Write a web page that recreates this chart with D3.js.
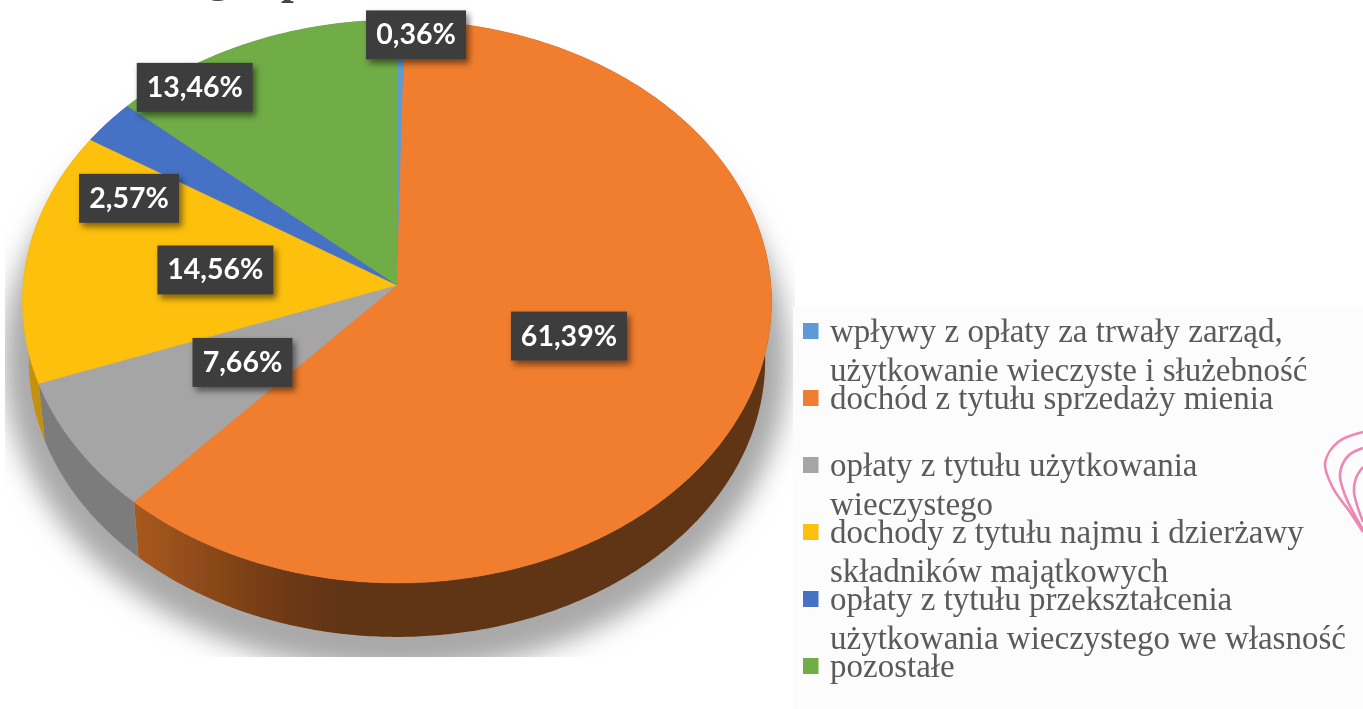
<!DOCTYPE html>
<html lang="pl">
<head>
<meta charset="utf-8">
<script src="https://cdnjs.cloudflare.com/ajax/libs/d3/7.8.5/d3.min.js"></script>
<style>
html,body{margin:0;padding:0;background:#fff;overflow:hidden}
svg{display:block}
</style>
</head>
<body>
<svg id="chart" width="1363" height="709"></svg>
<script>
// ---- data ----
const categories = [
  ["wpływy z opłaty za trwały zarząd,", "użytkowanie wieczyste i służebność"],
  ["dochód z tytułu sprzedaży mienia"],
  ["opłaty z tytułu użytkowania", "wieczystego"],
  ["dochody z tytułu najmu i dzierżawy", "składników majątkowych"],
  ["opłaty z tytułu przekształcenia", "użytkowania wieczystego we własność"],
  ["pozostałe"]
];
const values = [0.36, 61.39, 7.66, 14.56, 2.57, 13.46];
const valueLabels = ["0,36%", "61,39%", "7,66%", "14,56%", "2,57%", "13,46%"];
const topColors = ["#5b9bd5", "#f07e2e", "#a5a5a5", "#fdc010", "#4472c4", "#70ad47"];
const wallColors = ["#3f6f99", "url(#orangeWall)", "#7b7b7b", "#c4900c", "#2f5290", "#4f7d32"];
// hand-dragged data labels: offset from the default label anchor
const labelNudgeX = [17, 0, 0, 0, -124, -129];
const labelNudgeY = [-116, 0, 0, 0, -5, -75];

// ---- layout ----
const W = 1363, H = 709;
const svg = d3.select("#chart");
const apex = {x: 397, y: 285};
const radiusX = 373.9, radiusY = 280.5, perspective = 0.0586;
const depthScale = 0.983, lowerApexY = 344;

// perspective projection of a point on the pie disc (angle clockwise from 12 o'clock)
function project(angle, r, s = 1, ay = apex.y) {
  const ux = Math.sin(angle) * r, uy = Math.cos(angle) * r;
  const d = 1 + perspective * uy;
  return [apex.x + s * radiusX * ux / d, ay - s * radiusY * uy / d];
}
const pie = d3.pie().sort(null).value(d => d).startAngle(0).endAngle(2 * Math.PI);
const arcs = pie(values);
const line = d3.line();
const sampleAngles = (a, b) => {
  const n = Math.max(2, Math.ceil((b - a) / 0.01));
  return d3.range(n + 1).map(i => a + (b - a) * i / n);
};

const defs = svg.append("defs");
defs.append("filter").attr("id", "shadowBlur")
  .attr("x", "-10%").attr("y", "-10%").attr("width", "120%").attr("height", "120%")
  .append("feGaussianBlur").attr("stdDeviation", 13);
defs.append("filter").attr("id", "soft")
  .attr("x", "-5%").attr("y", "-5%").attr("width", "110%").attr("height", "110%")
  .append("feGaussianBlur").attr("stdDeviation", 0.7);
const ds = defs.append("filter").attr("id", "boxShadow")
  .attr("x", "-20%").attr("y", "-30%").attr("width", "150%").attr("height", "170%");
ds.append("feDropShadow").attr("dx", 3).attr("dy", 4).attr("stdDeviation", 3)
  .attr("flood-color", "#000").attr("flood-opacity", 0.5);
const grad = defs.append("linearGradient").attr("id", "orangeWall")
  .attr("gradientUnits", "userSpaceOnUse")
  .attr("x1", 135).attr("x2", 340).attr("y1", 0).attr("y2", 0);
grad.append("stop").attr("offset", 0).attr("stop-color", "#a9591f");
grad.append("stop").attr("offset", 0.7).attr("stop-color", "#703a14");
grad.append("stop").attr("offset", 1).attr("stop-color", "#603412");
defs.append("clipPath").attr("id", "shadowClip").append("rect")
  .attr("x", 5).attr("y", 0).attr("width", 790).attr("height", 657);

// page background
svg.append("rect").attr("width", W).attr("height", H).attr("fill", "#fff");

// clipped remnants of the page heading
const heading = svg.append("g").attr("font-family", "'Liberation Serif'").attr("font-weight", 700)
  .attr("font-size", 46).attr("fill", "#444").attr("filter", "url(#soft)");
heading.append("text").attr("x", 207).attr("y", -9).text("g");
heading.append("text").attr("x", 281).attr("y", -7).text("p");

// drop shadow
svg.append("g").attr("clip-path", "url(#shadowClip)")
  .append("ellipse").attr("cx", 396).attr("cy", 360).attr("rx", 392).attr("ry", 312)
  .attr("fill", "#a9a9a9").attr("filter", "url(#shadowBlur)");

// pale panel behind the legend
svg.append("rect").attr("x", 793).attr("y", 306).attr("width", W - 793).attr("height", H - 306).attr("fill", "#fcfcfc");

const pieG = svg.append("g").attr("filter", "url(#soft)");

// side walls
pieG.selectAll("path.wall").data(arcs).join("path").attr("class", "wall")
  .attr("fill", (d, i) => wallColors[i])
  .attr("d", d => {
    const as = sampleAngles(d.startAngle, d.endAngle);
    const upper = as.map(a => project(a, 1));
    const lower = as.slice().reverse().map(a => project(a, 1, depthScale, lowerApexY));
    return line(upper.concat(lower)) + "Z";
  });

// top faces
pieG.selectAll("path.top").data(arcs).join("path").attr("class", "top")
  .attr("fill", (d, i) => topColors[i])
  .attr("stroke", (d, i) => topColors[i]).attr("stroke-width", 0.5)
  .attr("d", d => line([[apex.x, apex.y]].concat(sampleAngles(d.startAngle, d.endAngle).map(a => project(a, 1)))) + "Z");

// value labels
const labelR = 0.49;
const labels = svg.append("g").attr("filter", "url(#soft)")
  .selectAll("g").data(arcs).join("g")
  .attr("transform", (d, i) => {
    const p = project((d.startAngle + d.endAngle) / 2, labelR);
    return `translate(${p[0] + labelNudgeX[i]},${p[1] + labelNudgeY[i]})`;
  });
const boxW = d3.scaleOrdinal().domain([5, 6]).range([100, 116]);
labels.append("rect")
  .attr("x", (d, i) => -boxW(valueLabels[i].length) / 2)
  .attr("width", (d, i) => boxW(valueLabels[i].length))
  .attr("y", -25).attr("height", 49)
  .attr("fill", "#3d3d3d").attr("filter", "url(#boxShadow)");
labels.append("text")
  .attr("text-anchor", "middle").attr("y", 9)
  .attr("font-family", "Lato").attr("font-weight", 700).attr("font-size", 28.5)
  .attr("fill", "#fff").text((d, i) => valueLabels[i]);

// legend
const rowY = d3.scalePoint().domain(d3.range(categories.length)).range([331, 666]);
const lineStep = 39;
const legend = svg.append("g").attr("filter", "url(#soft)")
  .selectAll("g").data(categories).join("g")
  .attr("transform", (d, i) => `translate(803,${rowY(i)})`);
legend.append("rect").attr("y", -8).attr("width", 15.5).attr("height", 16)
  .attr("fill", (d, i) => topColors[i]);
legend.selectAll("text").data(d => d).join("text")
  .attr("x", 27).attr("y", (d, j) => 11 + j * lineStep)
  .attr("font-family", "'Liberation Serif'").attr("font-size", 33).attr("fill", "#5a5a5a")
  .text(d => d);

// decorative pink ornament cut off by the right page edge
const ornament = [
  [[1363, 432], [1338, 442], [1325, 463], [1333, 488], [1350, 512], [1363, 532]],
  [[1363, 448], [1348, 456], [1340, 474], [1345, 495], [1363, 530]],
  [[1363, 467], [1356, 478], [1354, 492], [1363, 522]]
];
svg.append("g").attr("fill", "none").attr("stroke", "#ef86b3").attr("stroke-width", 2.6)
  .selectAll("path").data(ornament).join("path")
  .attr("d", d3.line().curve(d3.curveCatmullRom));
</script>
</body>
</html>
